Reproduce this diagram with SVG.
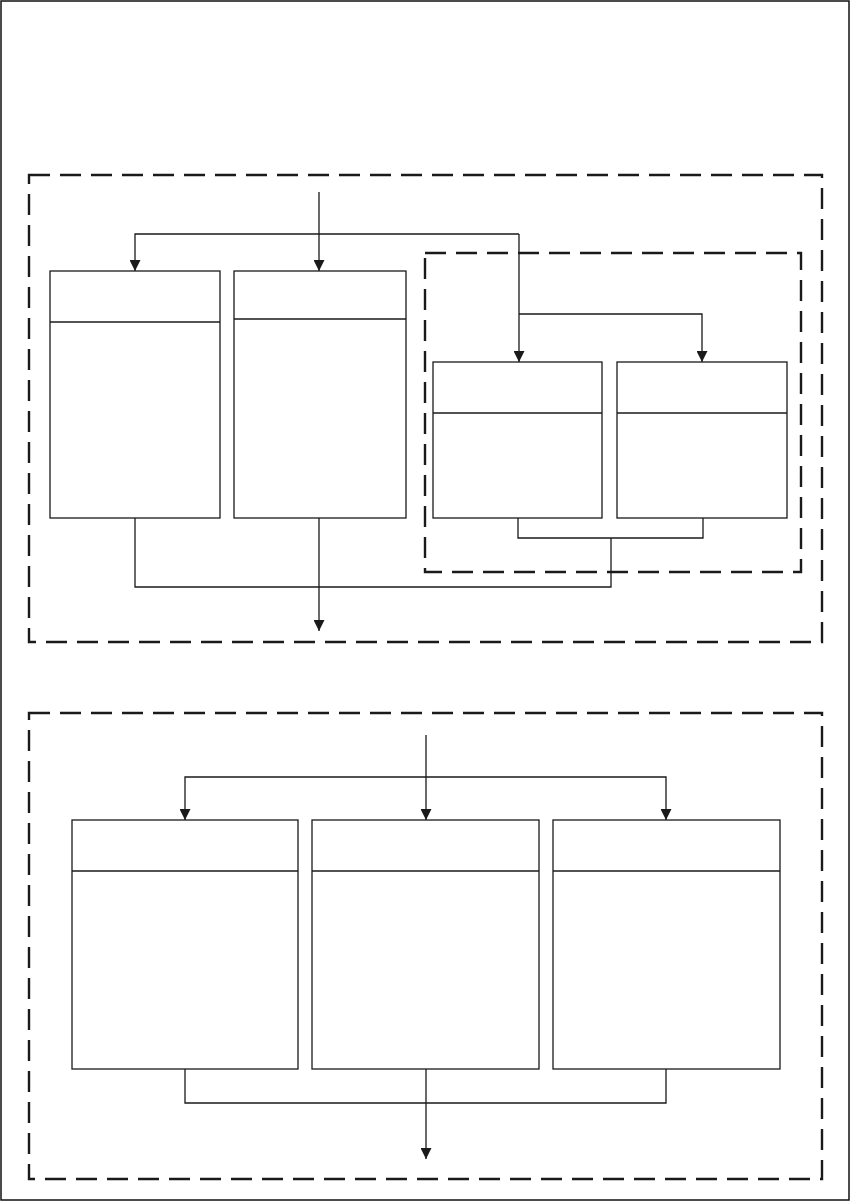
<svg xmlns="http://www.w3.org/2000/svg" width="851" height="1202" viewBox="0 0 851 1202">
<style>
.frame{fill:#fff;stroke:#111;stroke-width:1.5}
.grp{fill:none;stroke:#1a1a1a;stroke-width:2.4;stroke-dasharray:21 10}
.box{fill:#fff;stroke:#1a1a1a;stroke-width:1.3}
.div{stroke:#1a1a1a;stroke-width:1.3}
.con{fill:none;stroke:#1a1a1a;stroke-width:1.3}
</style>
<defs>
<marker id="arr" markerUnits="userSpaceOnUse" markerWidth="11" markerHeight="11" refX="11" refY="5.5" orient="auto" viewBox="0 0 11 11">
<path d="M0,0 L11,5.5 L0,11 z" fill="#1a1a1a"/>
</marker>
</defs>
<rect class="frame" x="1" y="1" width="848" height="1199"/>
<g id="group-top">
<rect class="grp" x="29" y="175" width="793" height="467"/>
<rect class="grp" x="425" y="253" width="376" height="319"/>
</g>
<g id="group-bottom">
<rect class="grp" x="29" y="713" width="793" height="466"/>
</g>
<g id="n1"><rect class="box" x="50" y="271" width="170" height="247"/><line class="div" x1="50" y1="322" x2="220" y2="322"/></g>
<g id="n2"><rect class="box" x="234" y="271" width="172" height="247"/><line class="div" x1="234" y1="319" x2="406" y2="319"/></g>
<g id="n3"><rect class="box" x="433" y="362" width="169" height="156"/><line class="div" x1="433" y1="413" x2="602" y2="413"/></g>
<g id="n4"><rect class="box" x="617" y="362" width="170" height="156"/><line class="div" x1="617" y1="413" x2="787" y2="413"/></g>
<g id="n5"><rect class="box" x="72" y="820" width="226" height="249"/><line class="div" x1="72" y1="871" x2="298" y2="871"/></g>
<g id="n6"><rect class="box" x="312" y="820" width="227" height="249"/><line class="div" x1="312" y1="871" x2="539" y2="871"/></g>
<g id="n7"><rect class="box" x="553" y="820" width="227" height="249"/><line class="div" x1="553" y1="871" x2="780" y2="871"/></g>
<g id="connectors">
<path class="con" d="M319,192 V271" marker-end="url(#arr)"/>
<path class="con" d="M519,234 H135 V271" marker-end="url(#arr)"/>
<path class="con" d="M519,234 V362" marker-end="url(#arr)"/>
<path class="con" d="M519,314 H702 V362" marker-end="url(#arr)"/>
<path class="con" d="M518,518 V538 H703 V518"/>
<path class="con" d="M135,518 V587 H611 V538"/>
<path class="con" d="M319,518 V631" marker-end="url(#arr)"/>
<path class="con" d="M426,735 V820" marker-end="url(#arr)"/>
<path class="con" d="M426,777 H185 V820" marker-end="url(#arr)"/>
<path class="con" d="M426,777 H666 V820" marker-end="url(#arr)"/>
<path class="con" d="M185,1069 V1103 H666 V1069"/>
<path class="con" d="M426,1069 V1159" marker-end="url(#arr)"/>
</g>
</svg>
